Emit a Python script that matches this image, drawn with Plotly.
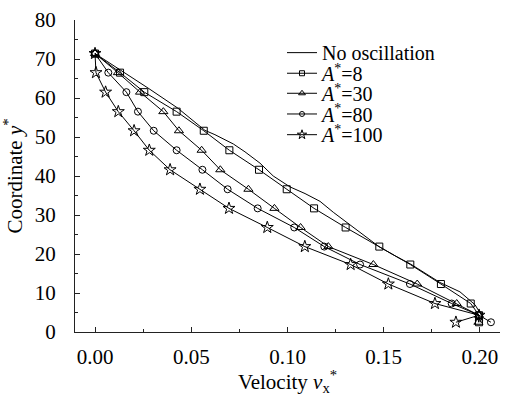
import plotly.graph_objects as go

# ---- data ----
y_levels = [71.4, 66.5, 61.5, 56.5, 51.6, 46.6, 41.6, 36.6, 31.7, 26.8, 21.9, 17.3, 12.3, 7.3, 4.3, 2.5]

x_a8 = [0.0, 0.013, 0.0256, 0.0424, 0.0565, 0.0698, 0.0852, 0.0996, 0.1138, 0.1302, 0.1477, 0.1638,
        0.1797, 0.1952, 0.1995, 0.1995]
x_a30 = [0.0, 0.0119, 0.0234, 0.0355, 0.0436, 0.0554, 0.0651, 0.0797, 0.0932, 0.1068, 0.1212, 0.1446,
         0.1674, 0.1879, 0.1995, 0.1992]
x_a80 = [0.0, 0.0069, 0.0163, 0.0223, 0.0305, 0.0424, 0.0558, 0.0689, 0.0845, 0.1035, 0.1191, 0.1377,
         0.1636, 0.1853, 0.1995, 0.2057]
x_a100 = [0.0, 0.0005, 0.0055, 0.0121, 0.0203, 0.0282, 0.039, 0.0545, 0.0696, 0.0895, 0.109, 0.1328,
          0.1524, 0.1766, 0.1995, 0.1875]

x_noosc = [0.0, 0.014, 0.028, 0.043, 0.0571, 0.0623, 0.0719, 0.0779, 0.0857, 0.0926, 0.1013, 0.1091,
           0.1169, 0.1238, 0.1325, 0.1411, 0.1475, 0.1560, 0.1640, 0.1792, 0.1896, 0.1974, 0.2009, 0.2003]
y_noosc = [71.4, 67.0, 62.4, 57.4, 51.7, 50.6, 48.2, 46.2, 43.3, 40.0, 37.2, 35.5,
           33.5, 30.7, 27.4, 24.1, 21.9, 19.5, 17.4, 12.7, 10.3, 7.0, 4.2, 2.5]

series_names = ["No oscillation", "<i>A</i><sup>*</sup>=8", "<i>A</i><sup>*</sup>=30",
                "<i>A</i><sup>*</sup>=80", "<i>A</i><sup>*</sup>=100"]

x_ticks = [0.0, 0.05, 0.10, 0.15, 0.20]
x_ticklabels = ["0.00", "0.05", "0.10", "0.15", "0.20"]
y_ticks = [0, 10, 20, 30, 40, 50, 60, 70, 80]

FONT = "Liberation Serif"

fig = go.Figure()

marked = [
    (x_a8, "square-open", 7, 1),
    (x_a30, "triangle-up-open", 8, 2),
    (x_a80, "circle-open", 7, 3),
    (x_a100, "star-open", 9, 4),
]

fig.add_trace(go.Scatter(x=x_noosc, y=y_noosc, mode="lines",
                         line=dict(color="black", width=1), showlegend=False))
for xs, sym, sz, _ in marked:
    fig.add_trace(go.Scatter(x=xs, y=y_levels, mode="lines+markers",
                             line=dict(color="black", width=1),
                             marker=dict(symbol=sym, size=sz, color="black",
                                         line=dict(color="black", width=1)),
                             showlegend=False))

# legend-only entries (one legend per row, to match the tight row spacing)
row_y = [49.2, 70.8, 91.8, 113.5, 135.2]  # pixel centres of legend rows
legend_names = ["legend", "legend2", "legend3", "legend4", "legend5"]
fig.add_trace(go.Scatter(x=[None], y=[None], mode="lines", name=series_names[0],
                         line=dict(color="black", width=1), legend=legend_names[0]))
leg_sizes = {"square-open": 5, "triangle-up-open": 6, "circle-open": 5, "star-open": 7}
for (xs, sym, sz, i) in marked:
    fig.add_trace(go.Scatter(x=[None], y=[None], mode="lines+markers", name=series_names[i],
                             line=dict(color="black", width=1),
                             marker=dict(symbol=sym, size=leg_sizes[sym], color="black",
                                         line=dict(color="black", width=1)),
                             legend=legend_names[i]))

W, H = 508, 396
L, R, T, B = 75, 8, 15, 54
pw, ph = W - L - R, H - T - B

layout_legends = {}
for name, py in zip(legend_names, row_y):
    layout_legends[name] = dict(
        x=(282 - L) / pw, y=(H - B - py) / ph, xanchor="left", yanchor="middle",
        bgcolor="rgba(0,0,0,0)", borderwidth=0,
        font=dict(family=FONT, size=20, color="black"),
    )

fig.update_layout(
    width=W, height=H,
    margin=dict(l=L, r=R, t=T, b=B),
    paper_bgcolor="white", plot_bgcolor="white",
    font=dict(family=FONT, size=20, color="black"),
    **layout_legends,
)

fig.update_xaxes(
    range=[-0.0104, 0.2104], showgrid=False, zeroline=False,
    showline=True, linecolor="#222", linewidth=1.2,
    tickmode="array", tickvals=x_ticks, ticktext=x_ticklabels,
    ticks="inside", ticklen=5, tickwidth=1, tickcolor="#222",
    minor=dict(ticks="inside", ticklen=3, dtick=0.025, tick0=0.0, tickcolor="#222", showgrid=False),
    tickfont=dict(family=FONT, size=21, color="black"),
    ticklabelstandoff=6,
    title=dict(text="Velocity <i>v</i><sub>x</sub><sup>*</sup>", font=dict(family=FONT, size=21, color="black"),
               standoff=4),
)
fig.update_yaxes(
    range=[0, 80], showgrid=False, zeroline=False,
    showline=True, linecolor="#222", linewidth=1.2,
    tickmode="array", tickvals=y_ticks,
    ticks="inside", ticklen=5, tickwidth=1, tickcolor="#222",
    minor=dict(ticks="inside", ticklen=3, dtick=5, tick0=0, tickcolor="#222", showgrid=False),
    tickfont=dict(family=FONT, size=21, color="black"),
    ticklabelstandoff=14,
    title=dict(text="Coordinate <i>y</i><sup>*</sup>", font=dict(family=FONT, size=21, color="black"),
               standoff=6),
)

fig.write_html("out.html")
